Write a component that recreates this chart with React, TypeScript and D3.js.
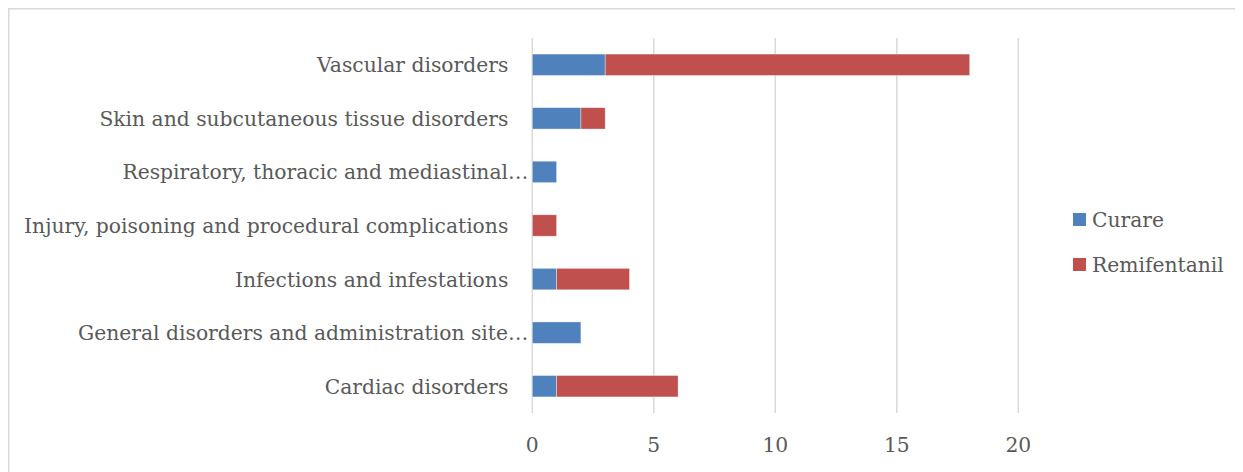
import React from "react";
import * as d3 from "d3";

// Adverse event categories, listed bottom to top as drawn
const categories = [
  "Cardiac disorders",
  "General disorders and administration site…",
  "Infections and infestations",
  "Injury, poisoning and procedural complications",
  "Respiratory, thoracic and mediastinal…",
  "Skin and subcutaneous tissue disorders",
  "Vascular disorders",
];
const curare = [1, 2, 1, 0, 1, 2, 3];
const remifentanil = [5, 0, 3, 1, 0, 1, 15];
const seriesNames = ["Curare", "Remifentanil"];
const seriesColors = ["#4F81BD", "#C0504D"];
const xTicks = [0, 5, 10, 15, 20];

const W = 1235;
const H = 464;
const FONT = "'DejaVu Serif', 'Liberation Serif', serif";
const FS = 20.3;
const TEXT = "#595959";
const GRID = "#d9d9d9";

export default function App() {
  const x = d3.scaleLinear().domain([0, 20]).range([524.3, 1010.3]);
  const y = d3
    .scaleBand<string>()
    .domain([...categories].reverse())
    .range([30, 405])
    .paddingInner(0.6)
    .paddingOuter(0.3);

  const rows = categories.map((c, i) => ({
    c,
    Curare: curare[i],
    Remifentanil: remifentanil[i],
  }));
  const stacked = d3.stack<any>().keys(seriesNames)(rows);

  return (
    <svg width={W} height={H} style={{ display: "block" }}>
      {/* chart frame: only the top and left edges fall inside the page */}
      <path d={`M0.75,${H} V0.75 H${W}`} fill="none" stroke={GRID} strokeWidth={1.5} />
      {xTicks.map((t) => (
        <g key={t}>
          <line x1={x(t)} x2={x(t)} y1={30} y2={405} stroke={GRID} strokeWidth={1.5} />
          <text x={x(t)} y={444} textAnchor="middle" fontFamily={FONT} fontSize={FS} fill={TEXT}>
            {t}
          </text>
        </g>
      ))}
      {stacked.map((s, si) => (
        <g key={s.key} fill={seriesColors[si]}>
          {s.map((d, i) =>
            d[1] - d[0] > 0 ? (
              <rect
                key={i}
                x={x(d[0])}
                y={y(categories[i])!}
                width={x(d[1]) - x(d[0])}
                height={y.bandwidth()}
                stroke="#ffffff"
                strokeOpacity={0.5}
                strokeWidth={0.75}
              />
            ) : null
          )}
        </g>
      ))}
      {categories.map((c) => (
        <text
          key={c}
          x={c.endsWith("…") ? x(0) - 4 : x(0) - 24}
          y={y(c)! + y.bandwidth() / 2 + 7.5}
          textAnchor="end"
          fontFamily={FONT}
          fontSize={FS}
          fill={TEXT}
        >
          {c}
        </text>
      ))}
      {seriesNames.map((n, i) => (
        <g key={n} transform={`translate(1065, ${205 + i * 45})`}>
          <rect width={13} height={13} fill={seriesColors[i]} />
          <text x={19} y={14} fontFamily={FONT} fontSize={FS} fill={TEXT}>
            {n}
          </text>
        </g>
      ))}
    </svg>
  );
}
